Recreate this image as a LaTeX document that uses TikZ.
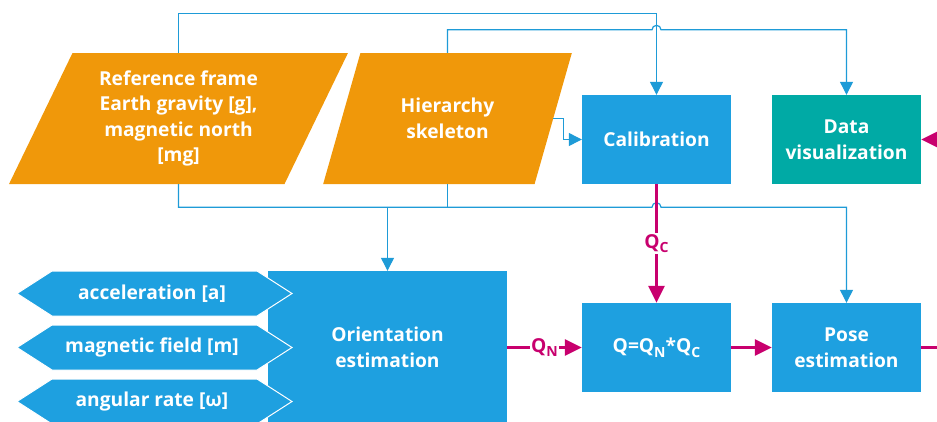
\documentclass[tikz,border=0pt]{standalone}
\usepackage{fontspec}
\setmainfont{Open Sans}
\usepackage{tikz}
\usetikzlibrary{positioning}
\usetikzlibrary{shapes.geometric}
\usetikzlibrary{arrows.meta}
\usetikzlibrary{calc}
\usepackage{xcolor}

\definecolor{boxblue}{RGB}{30,160,224}
\definecolor{linkblue}{RGB}{30,155,215}
\definecolor{inorange}{RGB}{240,152,10}
\definecolor{vizteal}{RGB}{0,170,165}
\definecolor{flowmag}{RGB}{200,0,110}

\newcommand{\blockfont}{\fontsize{19.2}{25.5}\selectfont\bfseries}
\newcommand{\qsub}[1]{\raisebox{-0.45ex}{\fontsize{14}{14}\selectfont #1}}

\begin{document}
\begin{tikzpicture}[x=1pt, y=-1pt,
    inbox/.style={shape=trapezium, trapezium left angle=63.6, trapezium right angle=116.4,
        trapezium stretches=true, minimum height=131pt, inner sep=0pt,
        fill=inorange, text=white, font=\blockfont, align=center},
    block/.style={rectangle, fill=boxblue, text=white, font=\blockfont, align=center,
        minimum width=149pt, minimum height=89pt, inner sep=0pt},
    sensor/.style={fill=boxblue, draw=white, line width=1pt},
    sensortext/.style={text=white, font=\blockfont},
    link/.style={draw=linkblue, line width=1.2pt},
    tip/.style={-{Triangle[length=13pt, width=13pt]}},
    flow/.style={draw=flowmag, line width=3pt, -{Triangle[length=17pt, width=16pt]}},
    qlabel/.style={fill=white, text=flowmag, font=\blockfont, inner sep=1.5pt}]
    \useasboundingbox (0,0) rectangle (937,421);
    \clip (0,0) rectangle (937,421);

    % Reference data
    \node[inbox, minimum width=339pt] (refframe) at (178.5,118.5)
        {Reference frame\\Earth gravity [g],\\magnetic north\\{}[mg]};
    \node[inbox, minimum width=249pt] (skeleton) at (447.5,118.5) {Hierarchy\\skeleton};

    % Blocks
    \node[block] (calib) at (656.5,139.5) {Calibration};
    \node[block, fill=vizteal] (dataviz) at (846.5,139.5) {Data\\visualization};
    \node[block, minimum width=239pt, minimum height=153pt] (orient) at (387.5,347.5)
        {Orientation\\estimation};
    \node[block] (fusion) at (656.5,347.5) {Q=Q\qsub{N}*Q\qsub{C}};
    \node[block] (pose) at (846.5,347.5) {Pose\\estimation};

    % Sensor inputs
    \draw[sensor] (17,293.5) -- (52,271) -- (257,271) -- (292,293.5) -- (257,316) -- (52,316) -- cycle;
    \node[sensortext] (acc) at (152,293.5) {acceleration [a]};
    \draw[sensor] (17,347.5) -- (52,325) -- (257,325) -- (292,347.5) -- (257,370) -- (52,370) -- cycle;
    \node[sensortext] (mag) at (152,347.5) {magnetic field [m]};
    \draw[sensor] (17,401.5) -- (52,379) -- (257,379) -- (292,401.5) -- (257,424) -- (52,424) -- cycle;
    \node[sensortext] (gyro) at (152,401.5) {angular rate [ω]};

    % Reference links
    \draw[link, tip] (refframe.north) -- ++(0,-39) -| (calib.north);
    \draw[link, tip] (skeleton.north) |- ($(calib.north)+(-4.5,-65)$)
        arc[start angle=180, end angle=360, radius=4.5] -| (dataviz.north);
    \draw[link, tip] (skeleton.right side) -- ($(calib.west)+(-18,-21)$) |- (calib.west);
    \draw[link, tip] (refframe.south) |- ($(calib.south)+(-4.5,23)$)
        arc[start angle=180, end angle=360, radius=4.5] -| (pose.north);
    \draw[link] (skeleton.south) -- ++(0,23);
    \draw[link, tip] ($(orient.north)+(0,-64)$) -- (orient.north);

    % Quaternion flow
    \draw[flow] (calib.south) -- node[qlabel] {Q\qsub{C}} (fusion.north);
    \draw[flow] (orient.east) -- node[qlabel] {Q\qsub{N}} (fusion.west);
    \draw[flow] (fusion.east) -- (pose.west);
    \draw[flow] (pose.east) -- ++(30,0) |- (dataviz.east);
\end{tikzpicture}
\end{document}
